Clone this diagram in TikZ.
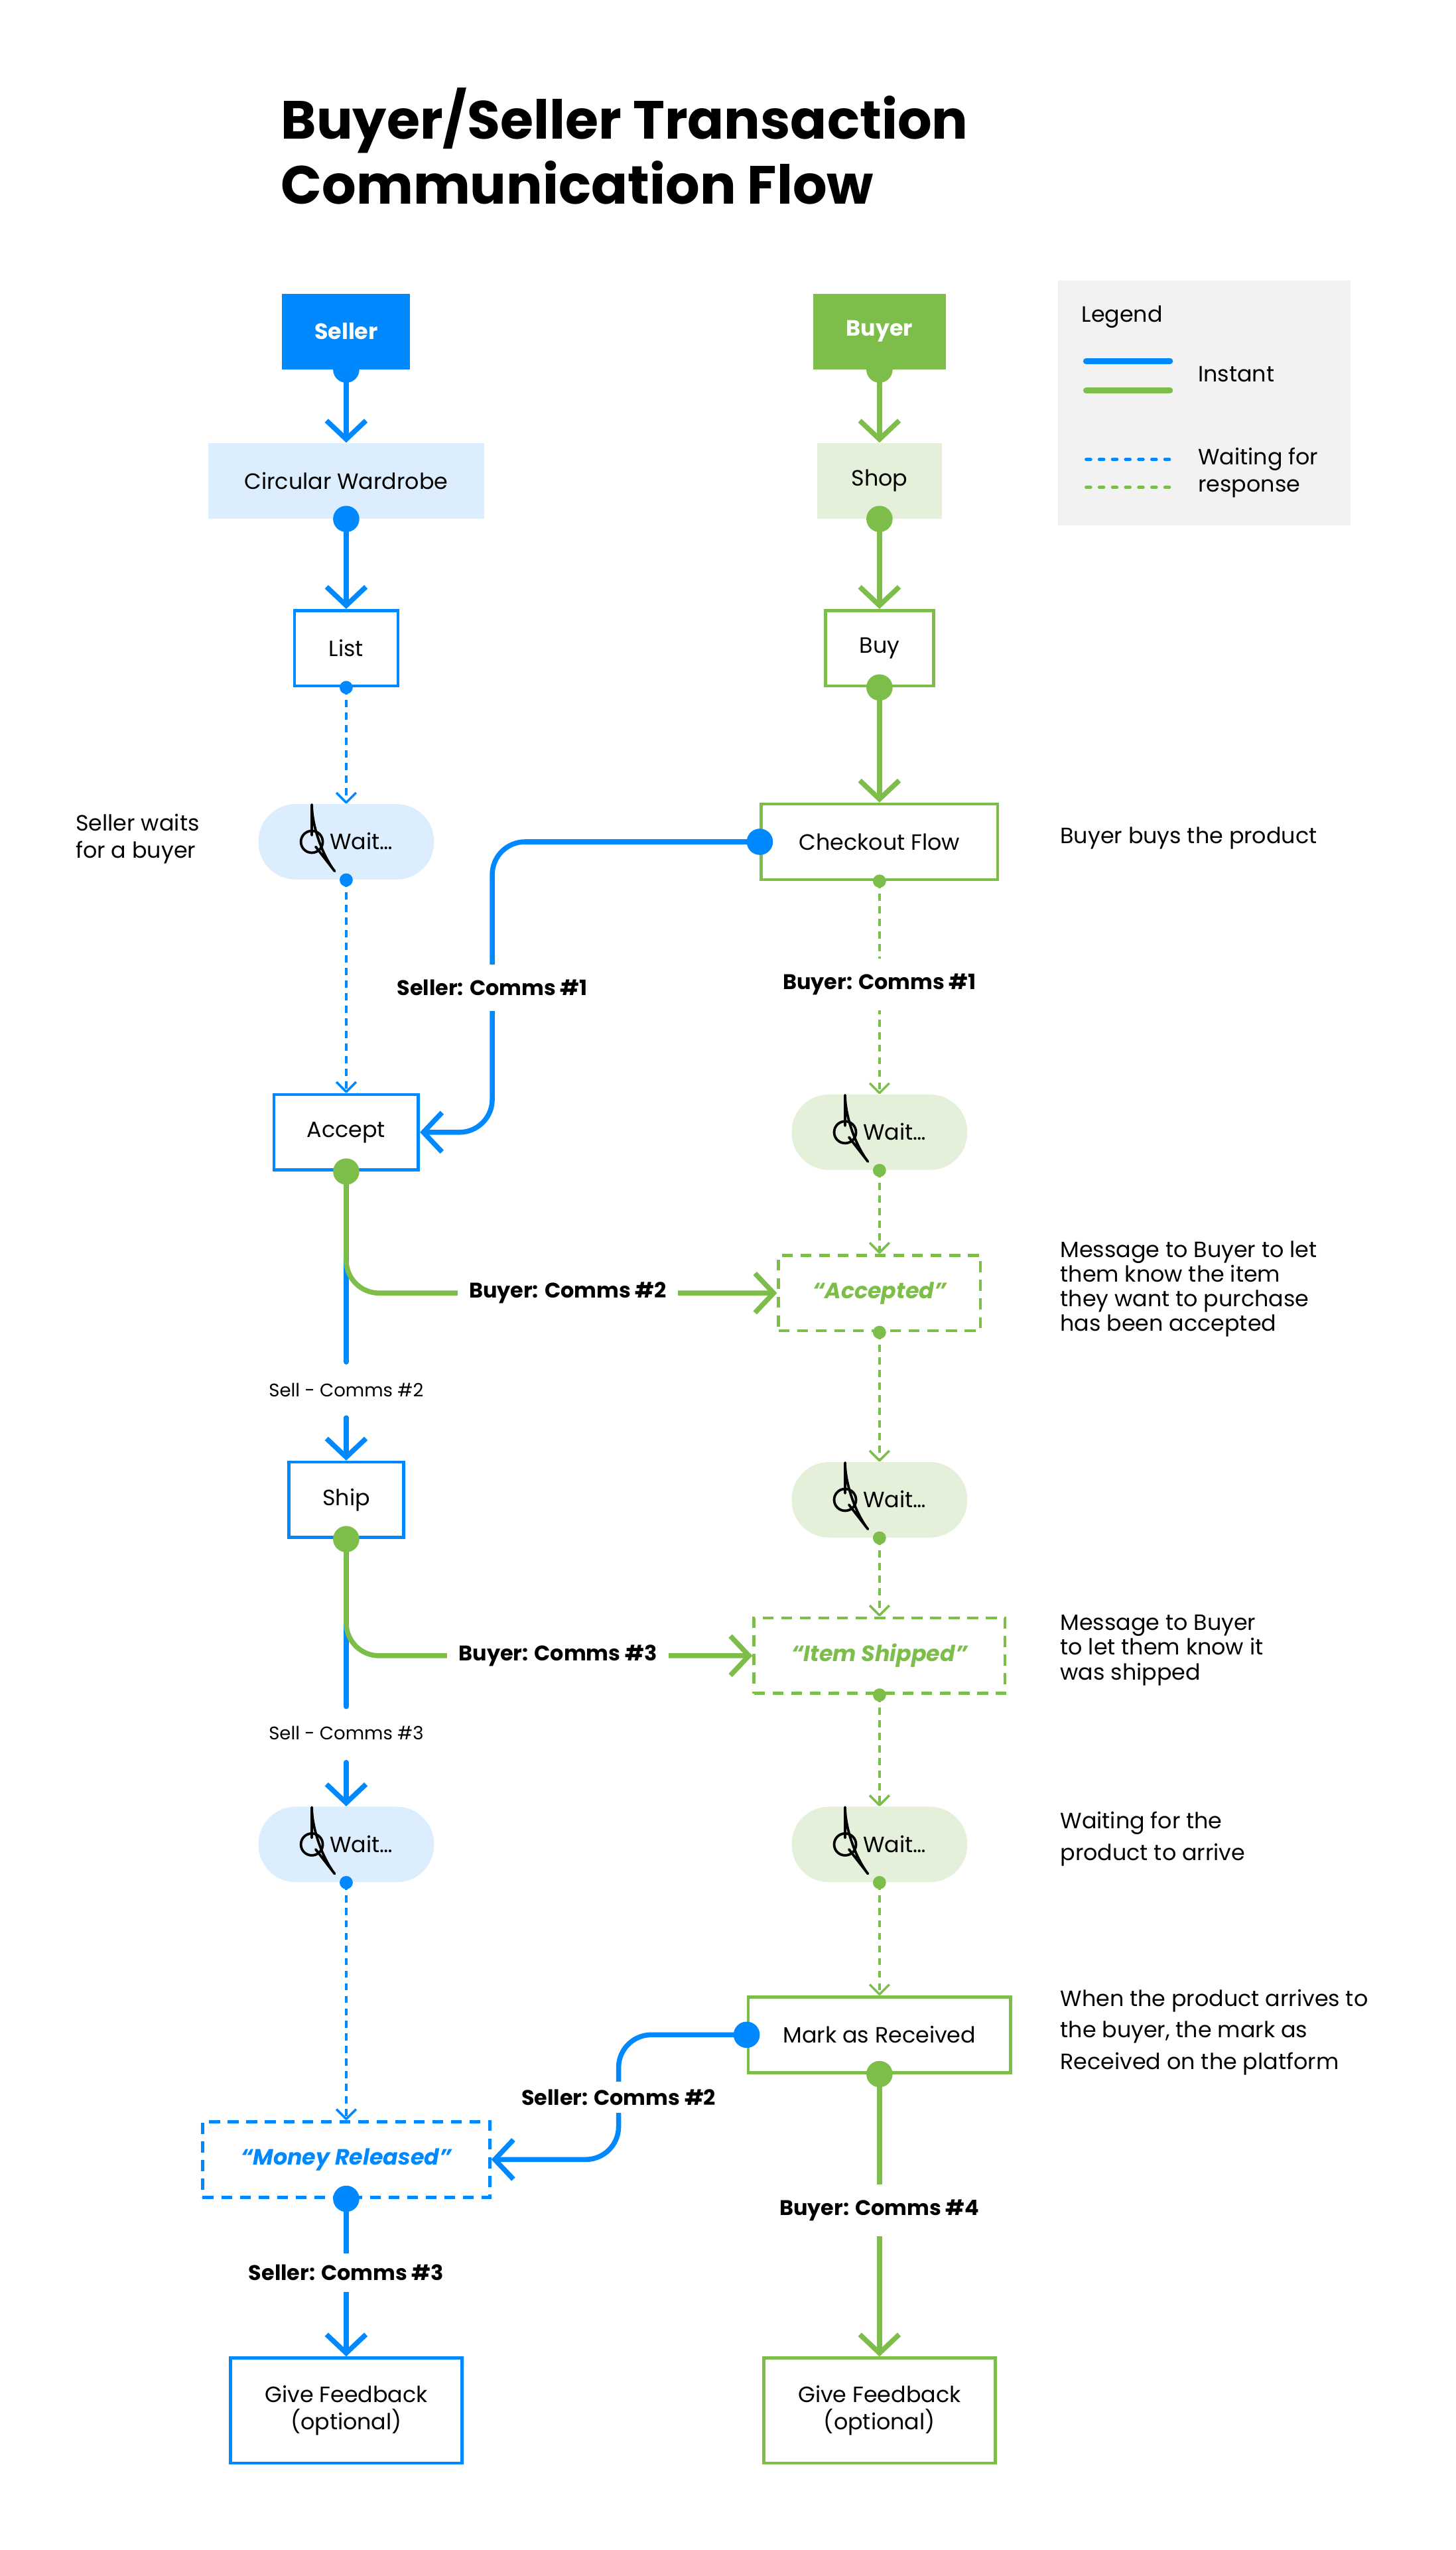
\documentclass[tikz,border=0pt]{standalone}
\usepackage{fontspec}
\setmainfont{Poppins}
\usetikzlibrary{arrows.meta}
\definecolor{sblue}{HTML}{0088FF}
\definecolor{bgreen}{HTML}{7DBE4B}
\definecolor{lblue}{HTML}{DCEEFD}
\definecolor{lgreen}{HTML}{E4F0DA}
\definecolor{legbg}{HTML}{F2F2F2}
\newcommand\clk{\tikz[baseline=-0.65ex,x=1cm,y=1cm]{\draw[line width=1.3pt] (0,0) circle (0.2cm); \draw[line width=1.3pt,line cap=round,line join=round] (0,0.12)--(0,0)--(0.07,-0.09);}}
\begin{document}
\begin{tikzpicture}[x=0.03cm,y=-0.03cm,
  txt/.style={font=\fontsize{11.5}{14}\selectfont},
  box/.style={txt,draw,line width=1.6pt,fill=white,inner sep=0pt,minimum height=1.38cm},
  sbox/.style={box,draw=sblue},
  gbox/.style={box,draw=bgreen},
  pill/.style={txt,rounded corners=0.68cm,inner sep=0pt,minimum height=1.38cm,minimum width=3.21cm},
  dbox/.style={box,dashed,dash pattern=on 0.2cm off 0.14cm,font=\fontsize{11.5}{14}\selectfont\bfseries\itshape},
  solid/.style={line width=2.6pt,line cap=round},
  wait/.style={line width=1.2pt,dash pattern=on 0.13cm off 0.1cm},
  big/.style={-{Straight Barb[length=0.34cm,width=0.72cm,line width=2.6pt]}},
  small/.style={-{Straight Barb[length=0.18cm,width=0.36cm,line width=1.2pt,line join=round]}},
  lbl/.style={font=\fontsize{11}{13}\selectfont\bfseries,fill=white,inner sep=2pt},
  side/.style={txt,anchor=north west,align=left,inner sep=0pt},
  bdot/.style={circle,inner sep=0pt,minimum size=0.48cm},
  sdot/.style={circle,inner sep=0pt,minimum size=0.24cm}]
\useasboundingbox (0,0) rectangle (887,1554);
% title
\node[anchor=west,font=\fontsize{28}{34}\selectfont\bfseries,align=left,inner sep=0pt] (title) at (171,89) {Buyer/Seller Transaction\\Communication Flow};
% legend
\node[fill=legbg,minimum width=5.34cm,minimum height=4.47cm,inner sep=0pt] (leg) at (734,245.5) {};
\node[txt,anchor=west,inner sep=0pt] (legt) at (659,193) {Legend};
\coordinate (l1a) at (662,220); \coordinate (l1b) at (713,220);
\coordinate (l2a) at (662,238); \coordinate (l2b) at (713,238);
\coordinate (l3a) at (662,280); \coordinate (l3b) at (713,280);
\coordinate (l4a) at (662,297); \coordinate (l4b) at (713,297);
\draw[sblue,line width=3.2pt,line cap=round] (l1a)--(l1b);
\draw[bgreen,line width=3.2pt,line cap=round] (l2a)--(l2b);
\draw[sblue,line width=1.7pt,line cap=round,dash pattern=on 0.08cm off 0.16cm] (l3a)--(l3b);
\draw[bgreen,line width=1.7pt,line cap=round,dash pattern=on 0.08cm off 0.16cm] (l4a)--(l4b);
\node[txt,anchor=west,inner sep=0pt] (legi) at (730,228) {Instant};
\node[txt,anchor=west,align=left,inner sep=0pt] (legw) at (730,288) {Waiting for\\response};
% nodes seller
\node[fill=sblue,text=white,txt,font=\fontsize{11.5}{14}\selectfont\bfseries,minimum width=2.34cm,minimum height=1.38cm] (seller) at (211,202) {Seller};
\node[fill=lblue,txt,minimum width=5.04cm,minimum height=1.38cm] (cw) at (211,293) {Circular Wardrobe};
\node[sbox,minimum width=1.89cm] (list) at (211,395) {List};
\node[pill,fill=lblue] (w1) at (211,513) {\clk\ Wait…};
\node[sbox,minimum width=2.64cm] (accept) at (211,690) {Accept};
\node[sbox,minimum width=2.1cm] (ship) at (211,914) {Ship};
\node[pill,fill=lblue] (w2) at (211,1124) {\clk\ Wait…};
\node[dbox,draw=sblue,text=sblue,minimum width=5.25cm] (money) at (211,1316) {“Money Released”};
\node[sbox,minimum width=4.23cm,minimum height=1.92cm,align=center] (fbs) at (211,1469) {Give Feedback\\(optional)};
% nodes buyer
\node[fill=bgreen,text=white,txt,font=\fontsize{11.5}{14}\selectfont\bfseries,minimum width=2.43cm,minimum height=1.38cm] (buyer) at (536,202) {Buyer};
\node[fill=lgreen,txt,minimum width=2.28cm,minimum height=1.38cm] (shop) at (536,293) {Shop};
\node[gbox,minimum width=1.98cm] (buy) at (536,395) {Buy};
\node[gbox,minimum width=4.32cm] (co) at (536,513) {Checkout Flow};
\node[pill,fill=lgreen] (wb1) at (536,690) {\clk\ Wait…};
\node[dbox,draw=bgreen,text=bgreen,minimum width=3.69cm] (acc) at (536,788) {“Accepted”};
\node[pill,fill=lgreen] (wb2) at (536,914) {\clk\ Wait…};
\node[dbox,draw=bgreen,text=bgreen,minimum width=4.59cm] (shipped) at (536,1009) {“Item Shipped”};
\node[pill,fill=lgreen] (wb3) at (536,1124) {\clk\ Wait…};
\node[gbox,minimum width=4.8cm] (mark) at (536,1240) {Mark as Received};
\node[gbox,minimum width=4.23cm,minimum height=1.92cm,align=center] (fbb) at (536,1469) {Give Feedback\\(optional)};
% side texts
\node[side] (t1) at (46,496) {Seller waits\\for a buyer};
\node[side] (t2) at (646,504) {Buyer buys the product};
\node[side,font=\fontsize{11.5}{12.8}\selectfont] (t3) at (646,756) {Message to Buyer to let\\them know the item\\they want to purchase\\has been accepted};
\node[side,font=\fontsize{11.5}{12.8}\selectfont] (t4) at (646,984) {Message to Buyer\\to let them know it\\was shipped};
\node[side,font=\fontsize{11.5}{16.5}\selectfont] (t5) at (646,1104) {Waiting for the\\product to arrive};
\node[side,font=\fontsize{11.5}{16.5}\selectfont] (t6) at (646,1212) {When the product arrives to\\the buyer, the mark as\\Received on the platform};
% seller column connectors
\draw[sblue,solid,big] (seller.south) -- (cw.north);
\draw[sblue,solid,big] (cw.south) -- (list.north);
\draw[sblue,wait,small] (list.south) -- (w1.north);
\draw[sblue,wait,small] (w1.south) -- (accept.north);
\coordinate (a1) at (211,830); \coordinate (a2) at (211,864);
\draw[sblue,solid] (accept.south) -- (a1);
\draw[sblue,solid,big] (a2) -- (ship.north);
\node[font=\fontsize{9.5}{11}\selectfont] (sc2) at (211,847) {Sell - Comms \#2};
\coordinate (b1) at (211,1040); \coordinate (b2) at (211,1074);
\draw[sblue,solid] (ship.south) -- (b1);
\draw[sblue,solid,big] (b2) -- (w2.north);
\node[font=\fontsize{9.5}{11}\selectfont] (sc3) at (211,1056) {Sell - Comms \#3};
\draw[sblue,wait,small] (w2.south) -- (money.north);
\draw[sblue,solid,big] (money.south) -- (fbs.north);
\node[lbl,inner ysep=6pt] (lsc3) at (211,1385) {Seller: Comms \#3};
% buyer column connectors
\draw[bgreen,solid,big] (buyer.south) -- (shop.north);
\draw[bgreen,solid,big] (shop.south) -- (buy.north);
\draw[bgreen,solid,big] (buy.south) -- (co.north);
\draw[bgreen,wait,small] (co.south) -- (wb1.north);
\node[lbl,inner ysep=8pt] (lbc1) at (536,600) {Buyer: Comms \#1};
\draw[bgreen,wait,small] (wb1.south) -- (acc.north);
\draw[bgreen,wait,small] (acc.south) -- (wb2.north);
\draw[bgreen,wait,small] (wb2.south) -- (shipped.north);
\draw[bgreen,wait,small] (shipped.south) -- (wb3.north);
\draw[bgreen,wait,small] (wb3.south) -- (mark.north);
\draw[bgreen,solid,big] (mark.south) -- (fbb.north);
\node[lbl,inner ysep=8pt] (lbc4) at (536,1347) {Buyer: Comms \#4};
% cross connectors
\coordinate (c1) at (300,513); \coordinate (c2) at (300,690);
\draw[sblue,solid,big,rounded corners=0.6cm] (co.west) -- (c1) -- (c2) -- (accept.east);
\node[lbl,inner ysep=8pt] (lsc1) at (300,602) {Seller: Comms \#1};
\coordinate (d1) at (211,788);
\draw[bgreen,solid,big,rounded corners=0.6cm] (accept.south) -- (d1) -- (acc.west);
\node[lbl,inner xsep=6pt] (lbc2) at (346,788) {Buyer: Comms \#2};
\coordinate (e1) at (211,1009);
\draw[bgreen,solid,big,rounded corners=0.6cm] (ship.south) -- (e1) -- (shipped.west);
\node[lbl,inner xsep=6pt] (lbc3) at (340,1009) {Buyer: Comms \#3};
\coordinate (f1) at (377,1240); \coordinate (f2) at (377,1316);
\draw[sblue,solid,big,rounded corners=0.6cm] (mark.west) -- (f1) -- (f2) -- (money.east);
\node[lbl,inner ysep=4pt] (lsc2) at (377,1278) {Seller: Comms \#2};
% dots
\node[bdot,fill=sblue] at (seller.south) {};
\node[bdot,fill=sblue] at (cw.south) {};
\node[sdot,fill=sblue] at (list.south) {};
\node[sdot,fill=sblue] at (w1.south) {};
\node[bdot,fill=bgreen] at (accept.south) {};
\node[bdot,fill=bgreen] at (ship.south) {};
\node[sdot,fill=sblue] at (w2.south) {};
\node[bdot,fill=sblue] at (money.south) {};
\node[bdot,fill=bgreen] at (buyer.south) {};
\node[bdot,fill=bgreen] at (shop.south) {};
\node[bdot,fill=bgreen] at (buy.south) {};
\node[bdot,fill=sblue] at (co.west) {};
\node[sdot,fill=bgreen] at (co.south) {};
\node[sdot,fill=bgreen] at (wb1.south) {};
\node[sdot,fill=bgreen] at (acc.south) {};
\node[sdot,fill=bgreen] at (wb2.south) {};
\node[sdot,fill=bgreen] at (shipped.south) {};
\node[sdot,fill=bgreen] at (wb3.south) {};
\node[bdot,fill=sblue] at (mark.west) {};
\node[bdot,fill=bgreen] at (mark.south) {};
\end{tikzpicture}
\end{document}
